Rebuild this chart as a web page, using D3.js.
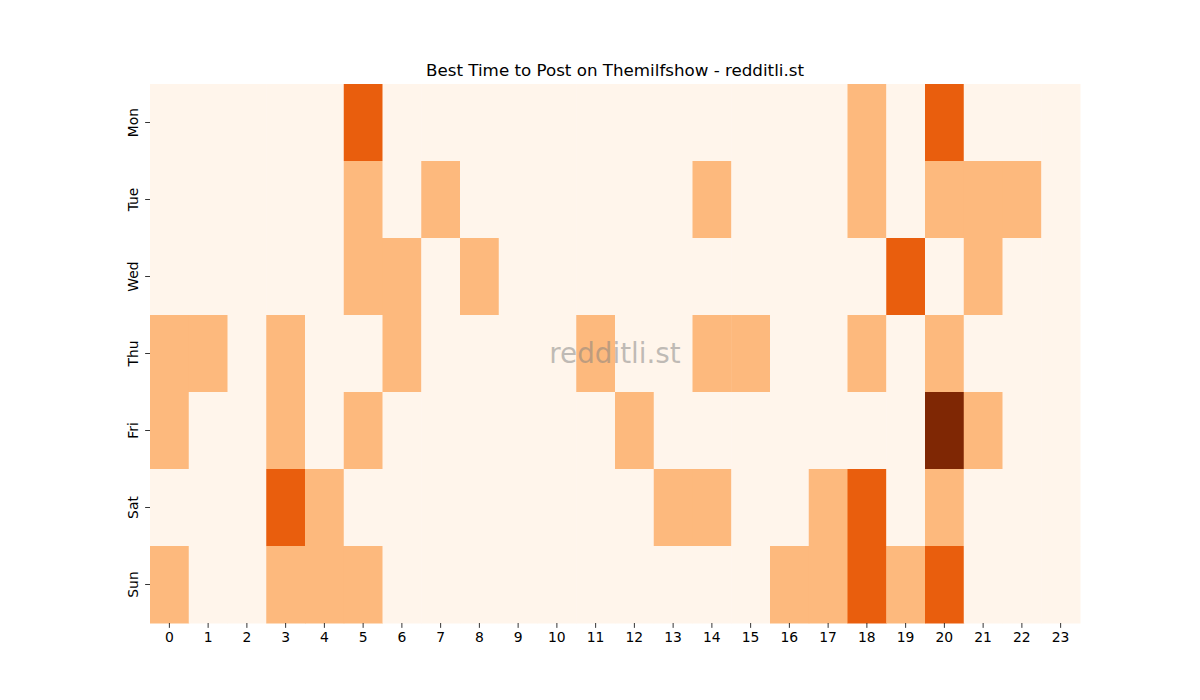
<!DOCTYPE html>
<html>
<head>
<meta charset="utf-8">
<script src="https://cdn.jsdelivr.net/npm/d3@7"></script>
<style>
  body { margin: 0; background: #fff; }
  text { font-family: "DejaVu Sans", sans-serif; }
</style>
</head>
<body>
<svg width="1200" height="700"></svg>
<script>
// activity level per hour, one row per weekday
var days = ["Mon", "Tue", "Wed", "Thu", "Fri", "Sat", "Sun"];
var hours = d3.range(24);
var mon = [0,0,0,0,0,2,0,0,0,0,0,0,0,0,0,0,0,0,1,0,2,0,0,0];
var tue = [0,0,0,0,0,1,0,1,0,0,0,0,0,0,1,0,0,0,1,0,1,1,1,0];
var wed = [0,0,0,0,0,1,1,0,1,0,0,0,0,0,0,0,0,0,0,2,0,1,0,0];
var thu = [1,1,0,1,0,0,1,0,0,0,0,1,0,0,1,1,0,0,1,0,1,0,0,0];
var fri = [1,0,0,1,0,1,0,0,0,0,0,0,1,0,0,0,0,0,0,0,3,1,0,0];
var sat = [0,0,0,2,1,0,0,0,0,0,0,0,0,1,1,0,0,1,2,0,1,0,0,0];
var sun = [1,0,0,1,1,1,0,0,0,0,0,0,0,0,0,0,1,1,2,1,2,0,0,0];
var rows = [mon, tue, wed, thu, fri, sat, sun];

var cells = [];
rows.forEach(function (r, i) {
    r.forEach(function (v, h) {
        cells.push({ day: days[i], hour: h, value: v });
    });
});

var svg = d3.select("svg");
var mLeft = 150, mRight = 1080, mTop = 84, mBottom = 623;

var x = d3.scaleBand().domain(hours).range([mLeft, mRight]);
var y = d3.scaleBand().domain(days).range([mTop, mBottom]);
var color = d3.scaleLinear()
    .domain([0, 1, 2, 3])
    .range(["#fff5eb", "#fdb97d", "#e95e0d", "#7f2704"]);

svg.selectAll(".cell")
    .data(cells)
    .enter().append("rect")
    .attr("class", "cell")
    .attr("x", d => x(d.hour))
    .attr("y", d => y(d.day))
    .attr("width", x.bandwidth() + 0.5)
    .attr("height", y.bandwidth() + 0.5)
    .attr("fill", d => color(d.value));

var xAxis = svg.append("g")
    .attr("transform", "translate(0," + mBottom + ")")
    .call(d3.axisBottom(x).tickSize(4.86).tickPadding(4));
xAxis.select(".domain").remove();
xAxis.selectAll("text").attr("font-size", "13.9px").attr("fill", "#000");
xAxis.selectAll("line").attr("stroke", "#000").attr("stroke-width", 0.8);

var yAxis = svg.append("g")
    .attr("transform", "translate(" + mLeft + ",0)")
    .call(d3.axisLeft(y).tickSize(4.86).tickPadding(4.86));
yAxis.select(".domain").remove();
yAxis.selectAll("line").attr("stroke", "#000").attr("stroke-width", 0.8);
yAxis.selectAll("text")
    .attr("font-size", "13.9px")
    .attr("fill", "#000")
    .attr("text-anchor", "middle")
    .attr("dy", null)
    .attr("x", null)
    .attr("transform", "translate(-17,0) rotate(-90)")
    .attr("dominant-baseline", "central");

svg.append("text")
    .attr("x", (mLeft + mRight) / 2)
    .attr("y", 76)
    .attr("text-anchor", "middle")
    .attr("font-size", "16.7px")
    .text("Best Time to Post on Themilfshow - redditli.st");

svg.append("text")
    .attr("x", (mLeft + mRight) / 2)
    .attr("y", (mTop + mBottom) / 2)
    .attr("text-anchor", "middle")
    .attr("dominant-baseline", "central")
    .attr("font-size", "27.8px")
    .attr("fill", "gray")
    .attr("fill-opacity", 0.5)
    .text("redditli.st");
</script>
</body>
</html>
